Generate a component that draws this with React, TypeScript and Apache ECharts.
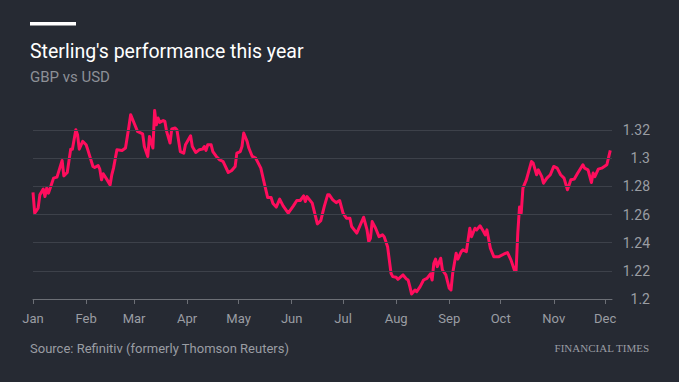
import React, { useEffect, useRef } from "react";
import * as echarts from "echarts";

// Days since 1 Jan 2019 for each sampled trading day
const days = [
  0, 1, 3, 4, 6, 7, 8, 9, 11, 12,
  14, 17, 18, 20, 22, 23, 25, 26, 27, 29,
  31, 32, 35, 36, 38, 39, 40, 41, 43, 45,
  46, 47, 49, 52, 54, 56, 57, 59, 61, 64,
  65, 67, 68, 70, 71, 72, 73, 74, 76, 77,
  78, 80, 81, 83, 84, 86, 88, 89, 92, 93,
  95, 97, 99, 100, 101, 102, 104, 105, 107, 109,
  111, 114, 116, 118, 119, 121, 122, 123, 125, 126,
  128, 130, 133, 135, 137, 139, 140, 142, 144, 146,
  149, 152, 154, 156, 158, 159, 160, 163, 166, 168,
  170, 172, 173, 175, 177, 179, 181, 183, 185, 186,
  189, 193, 195, 196, 197, 198, 200, 202, 204, 205,
  207, 209, 210, 212, 213, 216, 218, 219, 220, 221,
  223, 224, 226, 228, 230, 232, 233, 234, 235, 236,
  238, 239, 241, 243, 244, 245, 247, 248, 250, 251,
  253, 255, 256, 258, 259, 261, 263, 264, 265, 267,
  269, 272, 275, 277, 279, 281, 282, 283, 284, 285,
  286, 288, 291, 292, 294, 295, 297, 298, 300, 302,
  304, 306, 308, 310, 312, 314, 316, 318, 321, 322,
  324, 326, 327, 328, 330, 332, 335, 337,
];

// GBP vs USD
const gbpUsd = [
  1.2757, 1.261, 1.2646, 1.274, 1.2781, 1.2728, 1.2788, 1.2752, 1.2823, 1.2859,
  1.2866, 1.2984, 1.2875, 1.2899, 1.3065, 1.3065, 1.3203, 1.3167, 1.3065, 1.312,
  1.3096, 1.306, 1.2942, 1.2935, 1.2949, 1.2923, 1.2847, 1.289, 1.2852, 1.2811,
  1.2883, 1.293, 1.306, 1.3056, 1.3073, 1.3226, 1.331, 1.3251, 1.3191, 1.3174,
  1.3084, 1.3013, 1.3155, 1.3073, 1.334, 1.3238, 1.3286, 1.3255, 1.3269, 1.3262,
  1.3191, 1.3108, 1.3208, 1.3215, 1.3203, 1.3048, 1.3037, 1.3096, 1.316, 1.3084,
  1.3041, 1.306, 1.3065, 1.3084, 1.3056, 1.3096, 1.3096, 1.3048, 1.3013, 1.2989,
  1.2977, 1.2899, 1.2913, 1.2942, 1.3037, 1.3048, 1.3084, 1.3179, 1.312, 1.3073,
  1.3013, 1.3001, 1.293, 1.2823, 1.2721, 1.2721, 1.2681, 1.2653, 1.271, 1.2662,
  1.261, 1.2662, 1.27, 1.27, 1.2733, 1.2693, 1.2728, 1.2681, 1.2534, 1.2557,
  1.2657, 1.274, 1.274, 1.2705, 1.2685, 1.27, 1.261, 1.2574, 1.2574, 1.2515,
  1.2468, 1.2581, 1.2491, 1.2408, 1.2432, 1.255, 1.2503, 1.2443, 1.2456, 1.2443,
  1.2372, 1.2183, 1.2159, 1.2154, 1.214, 1.2171, 1.2142, 1.2135, 1.2088, 1.2036,
  1.2064, 1.2052, 1.2088, 1.2135, 1.2147, 1.2178, 1.2135, 1.2254, 1.2283, 1.223,
  1.229, 1.2206, 1.2171, 1.2076, 1.2064, 1.2183, 1.2325, 1.2283, 1.2337, 1.2349,
  1.2337, 1.2503, 1.2443, 1.2503, 1.2491, 1.252, 1.2479, 1.2456, 1.2491, 1.2361,
  1.2301, 1.2301, 1.232, 1.233, 1.2278, 1.2206, 1.2201, 1.2468, 1.2653, 1.261,
  1.2788, 1.2847, 1.2977, 1.2966, 1.2883, 1.2918, 1.287, 1.2823, 1.2859, 1.2883,
  1.2942, 1.293, 1.2883, 1.2859, 1.2776, 1.2847, 1.2852, 1.2895, 1.2954, 1.293,
  1.2918, 1.2828, 1.2895, 1.287, 1.2923, 1.293, 1.2954, 1.3056,
];

const gridValues = [1.22, 1.24, 1.26, 1.28, 1.3, 1.32];
const yMin = 1.2;
const yMax = 1.34;
const yStep = 0.02;
const startDate = Date.UTC(2019, 0, 1);
const endDate = Date.UTC(2019, 11, 5);
const DAY = 86400000;

const title = "Sterling's performance this year";
const subtitle = "GBP vs USD";
const source = "Source: Refinitiv (formerly Thomson Reuters)";
const brand = "FINANCIAL TIMES";

const BG = "#262a33";
const FONT = "Roboto, 'Noto Sans', sans-serif";

export default function App() {
  const ref = useRef<HTMLDivElement>(null);
  useEffect(() => {
    if (!ref.current) return;
    const chart = echarts.init(ref.current, null, { renderer: "svg" });
    const data = days.map((d, i) => [startDate + d * DAY, gbpUsd[i]]);
    chart.setOption({
      animation: false,
      useUTC: true,
      backgroundColor: BG,
      textStyle: { fontFamily: FONT },
      grid: { left: 33, right: 67, top: 102, bottom: 83 },
      xAxis: {
        type: "time",
        min: startDate,
        max: endDate,
        minInterval: 28 * DAY,
        maxInterval: 31 * DAY,
        axisLine: { lineStyle: { color: "#6c6f76", width: 1 } },
        axisTick: { show: true, length: 5, lineStyle: { color: "#6c6f76" } },
        axisLabel: {
          color: "#9a9da3",
          fontSize: 13,
          fontFamily: FONT,
          margin: 13,
          formatter: "{MMM}",
          hideOverlap: false,
        },
        splitLine: { show: false },
      },
      yAxis: {
        type: "value",
        position: "right",
        min: yMin,
        max: yMax,
        interval: yStep,
        axisLine: { show: false },
        axisTick: { show: false },
        splitLine: { show: false },
        axisLabel: {
          showMaxLabel: false,
          align: "right",
          margin: 38,
          color: "#9a9da3",
          fontSize: 14,
          fontFamily: FONT,
        },
      },
      series: [
        {
          type: "line",
          data: [],
          z: 1,
          markLine: {
            silent: true,
            symbol: "none",
            label: { show: false },
            lineStyle: { color: "#3d414a", width: 1, type: "solid" },
            data: gridValues.map((v) => ({ yAxis: v })),
          },
        },
        {
          type: "line",
          data,
          z: 3,
          showSymbol: false,
          symbol: "none",
          lineStyle: { color: "#ff0d5d", width: 3, join: "round" },
        },
      ],
      graphic: [
        {
          type: "rect",
          shape: { x: 30, y: 22, width: 46, height: 3.5 },
          style: { fill: "#ffffff" },
        },
        {
          type: "text",
          x: 30,
          y: 51,
          style: {
            text: title,
            fill: "#ffffff",
            font: `19.5px ${FONT}`,
            verticalAlign: "middle",
          },
        },
        {
          type: "text",
          x: 30,
          y: 77,
          style: {
            text: subtitle,
            fill: "#8d9097",
            font: `15px ${FONT}`,
            verticalAlign: "middle",
          },
        },
        {
          type: "text",
          x: 30,
          y: 348,
          style: {
            text: source,
            fill: "#9a9da3",
            font: `13px ${FONT}`,
            verticalAlign: "middle",
          },
        },
        {
          type: "text",
          x: 649,
          y: 348,
          style: {
            text: brand,
            fill: "#9a9da3",
            font: `11px 'Liberation Serif', 'DejaVu Serif', serif`,
            align: "right",
            verticalAlign: "middle",
          },
        },
      ],
    });
    return () => chart.dispose();
  }, []);
  return (
    <div
      ref={ref}
      style={{ position: "absolute", left: 0, top: 0, width: 679, height: 382 }}
    />
  );
}
